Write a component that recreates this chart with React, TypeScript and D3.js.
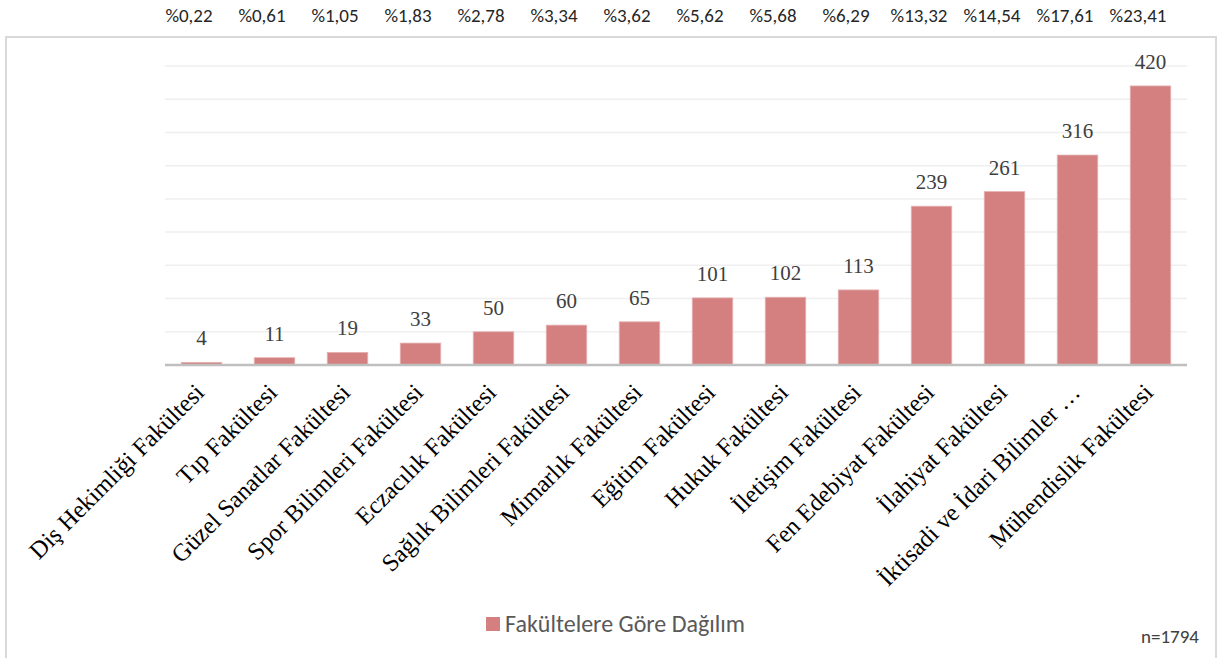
import React from "react";
import * as d3 from "d3";

const categories = [
  "Diş Hekimliği Fakültesi",
  "Tıp Fakültesi",
  "Güzel Sanatlar Fakültesi",
  "Spor Bilimleri Fakültesi",
  "Eczacılık Fakültesi",
  "Sağlık Bilimleri Fakültesi",
  "Mimarlık Fakültesi",
  "Eğitim Fakültesi",
  "Hukuk Fakültesi",
  "İletişim Fakültesi",
  "Fen Edebiyat Fakültesi",
  "İlahiyat Fakültesi",
  "İktisadi ve İdari Bilimler …",
  "Mühendislik Fakültesi",
];
const values = [4, 11, 19, 33, 50, 60, 65, 101, 102, 113, 239, 261, 316, 420];
const percents = [
  "%0,22", "%0,61", "%1,05", "%1,83", "%2,78", "%3,34", "%3,62",
  "%5,62", "%5,68", "%6,29", "%13,32", "%14,54", "%17,61", "%23,41",
];
const gridTicks = [0, 50, 100, 150, 200, 250, 300, 350, 400, 450];
const seriesName = "Fakültelere Göre Dağılım";
const noteText = "n=1794";

const W = 1219;
const H = 658;
const plot = { left: 165, right: 1187, top: 66, bottom: 365 };
const sans = "Calibri, Carlito, 'Open Sans', sans-serif";
const serif = "'Times New Roman', 'Liberation Serif', serif";
const barColor = "#d48080";

export default function App() {
  const x = d3
    .scaleBand<string>()
    .domain(categories)
    .range([plot.left, plot.right])
    .paddingInner(0.445)
    .paddingOuter(0.2225);
  const y = d3.scaleLinear().domain([0, 450]).range([plot.bottom, plot.top]);
  const center = (c: string) => (x(c) as number) + x.bandwidth() / 2;

  return (
    <svg
      width={W}
      height={H}
      style={{ position: "absolute", left: 0, top: 0, background: "#fff" }}
    >
      <rect x={0} y={0} width={W} height={H} fill="#fff" />
      {/* chart border */}
      <rect
        x={6}
        y={37}
        width={1210}
        height={640}
        fill="none"
        stroke="#d9d9d9"
        strokeWidth={2}
      />
      {/* percentages on top */}
      {categories.map((c, i) => (
        <text
          key={"p" + i}
          x={center(c) - 12.5}
          y={22}
          textAnchor="middle"
          fontFamily={sans}
          fontSize={19}
          fill="#262626"
        >
          {percents[i]}
        </text>
      ))}
      {/* gridlines */}
      {gridTicks.slice(1).map((t) => (
        <line
          key={"g" + t}
          x1={plot.left}
          x2={plot.right}
          y1={y(t)}
          y2={y(t)}
          stroke="#efefef"
          strokeWidth={1.5}
        />
      ))}
      {/* bars */}
      {categories.map((c, i) => (
        <rect
          key={"b" + i}
          x={x(c)}
          y={y(values[i])}
          width={x.bandwidth()}
          height={y(0) - y(values[i])}
          fill={barColor}
          stroke="#e6b3b3"
          strokeWidth={0.8}
        />
      ))}
      {/* baseline */}
      <line
        x1={plot.left}
        x2={plot.right}
        y1={y(0)}
        y2={y(0)}
        stroke="#bfbfbf"
        strokeWidth={2.5}
      />
      {/* value labels */}
      {categories.map((c, i) => (
        <text
          key={"v" + i}
          x={center(c)}
          y={y(values[i]) - 17}
          textAnchor="middle"
          fontFamily={serif}
          fontSize={21}
          fill="#404040"
        >
          {values[i]}
        </text>
      ))}
      {/* category labels */}
      {categories.map((c, i) => (
        <text
          key={"c" + i}
          transform={`translate(${center(c) + 4},${plot.bottom + 29}) rotate(-45)`}
          textAnchor="end"
          fontFamily={serif}
          fontSize={24.5}
          fill="#000"
        >
          {c}
        </text>
      ))}
      {/* legend */}
      <rect x={486} y={617} width={14} height={14} fill={barColor} />
      <text x={505} y={632} fontFamily={sans} fontSize={24} fill="#595959">
        {seriesName}
      </text>
      {/* note */}
      <text
        x={1199}
        y={643}
        textAnchor="end"
        fontFamily={sans}
        fontSize={19}
        fill="#404040"
      >
        {noteText}
      </text>
    </svg>
  );
}
